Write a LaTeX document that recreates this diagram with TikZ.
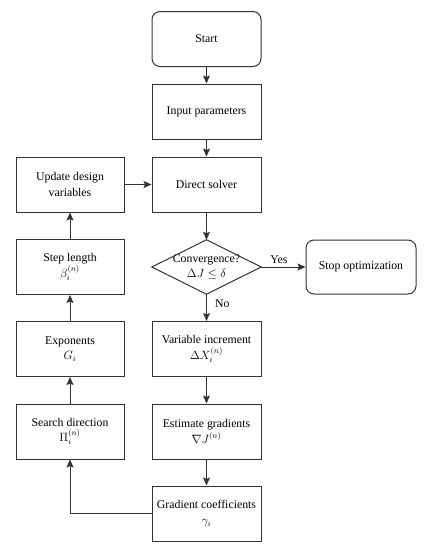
\documentclass[tikz,border=0pt]{standalone}
\usepackage{fontspec}
\setmainfont{Liberation Serif}
\usetikzlibrary{arrows.meta}
\begin{document}
\begin{tikzpicture}[x=1pt,y=-1pt,
  every node/.style={font=\fontsize{11.8}{15.5}\selectfont, align=center, inner sep=0pt},
  box/.style={draw=black!80, line width=1pt, minimum width=109pt, minimum height=55pt},
  rbox/.style={box, rounded corners=8pt},
  conn/.style={draw=black!80, line width=1pt, -{Stealth[length=8pt,width=7pt,inset=1.5pt]}},
  lbl/.style={font=\fontsize{11.8}{14}\selectfont}]
\useasboundingbox (0,0) rectangle (426,550);
\node[rbox] (start) at (206.5,39) {Start};
\node[box] (input) at (206.5,111.5) {Input parameters};
\node[box] (direct) at (206.5,184.5) {Direct solver};
\node[box, minimum width=108pt] (update) at (70,184.5) {Update design\\variables};
\node[minimum width=109pt, minimum height=54pt] (conv) at (206.5,267) {Convergence?\\$\Delta J \leq \delta$};
\draw[draw=black!80, line width=1pt] (conv.north) -- (conv.east) -- (conv.south) -- (conv.west) -- cycle;
\node[rbox, minimum width=110pt, minimum height=54pt] (stop) at (361,267) {Stop optimization};
\node[box, minimum width=108pt] (step) at (70,267) {Step length\\$\beta_i^{(n)}$};
\node[box, minimum width=108pt] (expo) at (70,349) {Exponents\\$G_i$};
\node[box] (varinc) at (206.5,349) {Variable increment\\$\Delta X_i^{(n)}$};
\node[box, minimum width=108pt] (search) at (70,431.5) {Search direction\\$\Pi_i^{(n)}$};
\node[box] (estim) at (206.5,431.5) {Estimate gradients\\$\nabla J^{(n)}$};
\node[box] (grad) at (206.5,513.5) {Gradient coefficients\\$\gamma_i$};
\draw[conn] (start) -- (input);
\draw[conn] (input) -- (direct);
\draw[conn] (update) -- (direct);
\draw[conn] (direct) -- (conv);
\draw[conn] (conv.east) -- node[lbl, above, yshift=3pt, pos=0.4] (yes) {Yes} (stop);
\draw[conn] (conv.south) -- node[lbl, right, xshift=8pt, pos=0.35] (no) {No} (varinc);
\draw[conn] (varinc) -- (estim);
\draw[conn] (estim) -- (grad);
\draw[conn] (grad.west) -| (search.south);
\draw[conn] (search) -- (expo);
\draw[conn] (expo) -- (step);
\draw[conn] (step) -- (update);
\end{tikzpicture}
\end{document}
